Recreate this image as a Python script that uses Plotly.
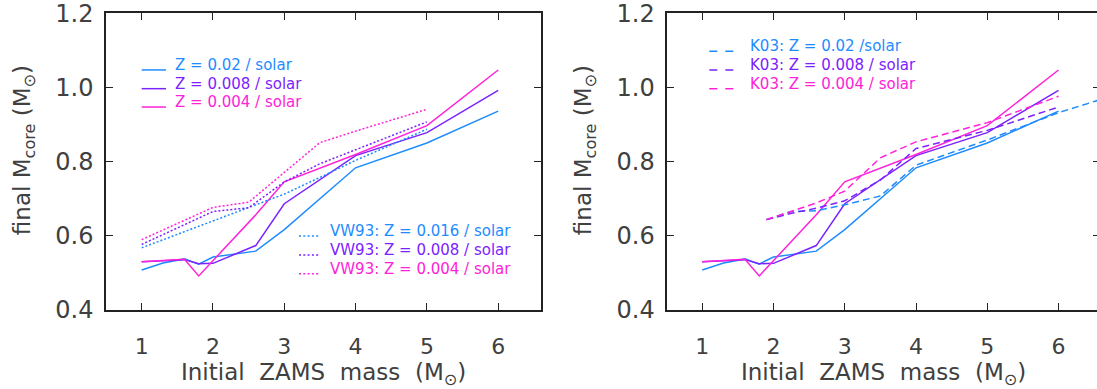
import plotly.graph_objects as go

# ---------------- data ----------------
mass = [1.0, 1.3, 1.6, 1.8, 2.0, 2.6, 3.0, 4.0, 5.0, 6.0]
core_z020 = [0.507, 0.526, 0.537, 0.523, 0.542, 0.558, 0.616, 0.783, 0.850, 0.936]
core_z008 = [0.529, 0.531, 0.535, 0.524, 0.525, 0.573, 0.686, 0.816, 0.878, 0.992]
core_z004 = [0.529, 0.533, 0.536, 0.491, 0.533, 0.656, 0.745, 0.819, 0.897, 1.047]

vw_mass = [1.0, 1.5, 2.0, 2.5, 3.0, 3.5, 4.0, 5.0]
vw_z016 = [0.567, 0.603, 0.638, 0.674, 0.712, 0.757, 0.803, 0.887]
vw_z008 = [0.576, 0.621, 0.665, 0.675, 0.745, 0.794, 0.832, 0.907]
vw_z004 = [0.589, 0.632, 0.676, 0.690, 0.771, 0.851, 0.882, 0.941]

k03_mass_z020 = [1.9, 2.25, 2.6, 3.0, 3.5, 4.0, 5.0, 6.0, 7.0]
k03_z020 = [0.643, 0.665, 0.667, 0.683, 0.707, 0.790, 0.858, 0.932, 0.992]
k03_mass = [1.9, 2.25, 2.6, 3.0, 3.5, 4.0, 5.0, 6.0]
k03_z008 = [0.643, 0.660, 0.674, 0.694, 0.750, 0.835, 0.884, 0.947]
k03_z004 = [0.643, 0.665, 0.688, 0.720, 0.810, 0.853, 0.905, 0.976]

x_ticks = [1, 2, 3, 4, 5, 6]
y_ticks = [0.4, 0.6, 0.8, 1.0, 1.2]
y_ticktext = ["0.4", "0.6", "0.8", "1.0", "1.2"]

model_labels = ["Z = 0.02 / solar", "Z = 0.008 / solar", "Z = 0.004 / solar"]
vw_labels = ["VW93: Z = 0.016 / solar", "VW93: Z = 0.008 / solar", "VW93: Z = 0.004 / solar"]
k03_labels = ["K03: Z = 0.02 /solar", "K03: Z = 0.008 / solar", "K03: Z = 0.004 / solar"]

# ---------------- style ----------------
W, H = 1097, 389
MT, MB = 9, 79
BLUE, PURPLE, MAGENTA = "#1E8CFF", "#7B22FF", "#FF22D8"
COLORS = [BLUE, PURPLE, MAGENTA]
FONT = "DejaVu Sans"
TXT = "#404040"
LW = 1.5
DOT = "2px,2px"
DASH = "7px,4px"


def px2x(p):
    return p / W


def py2y(p):
    return (H - MB - p) / (H - MT - MB)


fig = go.Figure()

solid = [core_z020, core_z008, core_z004]
for xa, ya in (("x", "y"), ("x2", "y2")):
    for c, ys in zip(COLORS, solid):
        fig.add_trace(go.Scatter(x=mass, y=ys, mode="lines", xaxis=xa, yaxis=ya,
                                 line=dict(color=c, width=LW), showlegend=False,
                                 hoverinfo="skip"))

for c, ys in zip(COLORS, [vw_z016, vw_z008, vw_z004]):
    fig.add_trace(go.Scatter(x=vw_mass, y=ys, mode="lines", xaxis="x", yaxis="y",
                             line=dict(color=c, width=LW, dash=DOT), showlegend=False,
                             hoverinfo="skip"))

for c, xs, ys in zip(COLORS, [k03_mass_z020, k03_mass, k03_mass],
                     [k03_z020, k03_z008, k03_z004]):
    fig.add_trace(go.Scatter(x=xs, y=ys, mode="lines", xaxis="x2", yaxis="y2",
                             line=dict(color=c, width=LW, dash=DASH), showlegend=False,
                             hoverinfo="skip"))

axis_common = dict(showgrid=False, zeroline=False, showline=True, linecolor="#222222",
                   linewidth=1.5, ticks="inside", ticklen=7, tickwidth=1,
                   tickcolor="#222222", ticklabeloverflow="allow")
xcommon = dict(axis_common, tickvals=x_ticks, ticktext=[str(v) for v in x_ticks],
               tickfont=dict(family=FONT, size=22, color=TXT), ticklabelstandoff=16)
ycommon = dict(axis_common, tickvals=y_ticks, ticktext=y_ticktext, range=[0.399, 1.201],
               tickfont=dict(family=FONT, size=24, color=TXT), ticklabelstandoff=6)

L0, L1 = 106, 541
R0 = 667.3
fig.update_layout(
    width=W, height=H,
    margin=dict(l=0, r=0, t=MT, b=MB),
    paper_bgcolor="white", plot_bgcolor="white",
    showlegend=False,
    xaxis=dict(xcommon, domain=[px2x(L0), px2x(L1)], range=[0.5, 6.6], anchor="y",
               mirror="ticks"),
    yaxis=dict(ycommon, domain=[0, 1], anchor="x", mirror="ticks"),
    xaxis2=dict(xcommon, domain=[px2x(R0), 1.0], range=[0.51, 6.54], anchor="y2",
                mirror="ticks"),
    yaxis2=dict(ycommon, domain=[0, 1], anchor="x2", mirror=False),
    yaxis3=dict(showgrid=False, zeroline=False, showline=False, overlaying="y2",
                side="right", anchor="x2", range=[0.399, 1.201], tickvals=y_ticks,
                showticklabels=False, ticks="inside", ticklen=4, tickwidth=1,
                tickcolor="#222222"),
)
# helper trace so the right-hand tick axis is drawn
fig.add_trace(go.Scatter(x=[None], y=[None], xaxis="x2", yaxis="y3", showlegend=False))

ann = []
shapes = []
xt = "Initial  ZAMS  mass  (M<sub>⊙</sub>)"
yt = "final M<sub>core</sub> (M<sub>⊙</sub>)"
for cx in (323.5, 883):
    ann.append(dict(text=xt, x=px2x(cx), y=py2y(375), xref="paper", yref="paper",
                    xanchor="center", yanchor="middle", showarrow=False,
                    font=dict(family=FONT, size=23, color=TXT)))
for cx in (24, 585):
    ann.append(dict(text=yt, x=px2x(cx), y=py2y(148), xref="paper", yref="paper",
                    xanchor="center", yanchor="middle", showarrow=False, textangle=-90,
                    font=dict(family=FONT, size=23, color=TXT)))

legend_groups = [
    (model_labels, 141.7, 166, 173, [61.7, 80.7, 99.3], "solid"),
    (vw_labels, 299, 320, 327.7, [230, 249.3, 268.3], "2px,2.3px"),
    (k03_labels, 709.3, 733.3, 747.7, [42.7, 61.7, 80.7], "8px,8px"),
]
for labels, lx0, lx1, tx, ys, dash in legend_groups:
    for lab, c, yc in zip(labels, COLORS, ys):
        ann.append(dict(text=lab, x=px2x(tx), y=py2y(yc), xref="paper", yref="paper",
                        xanchor="left", yanchor="middle", showarrow=False,
                        font=dict(family=FONT, size=15, color=c)))
        shapes.append(dict(type="line", xref="paper", yref="paper",
                           x0=px2x(lx0), x1=px2x(lx1), y0=py2y(yc + 5), y1=py2y(yc + 5),
                           line=dict(color=c, width=LW, dash=dash)))

fig.update_layout(annotations=ann, shapes=shapes)
fig.write_html("out.html", config={"displayModeBar": False},
               post_script="document.body.style.margin='0';document.body.style.overflow='hidden';")
